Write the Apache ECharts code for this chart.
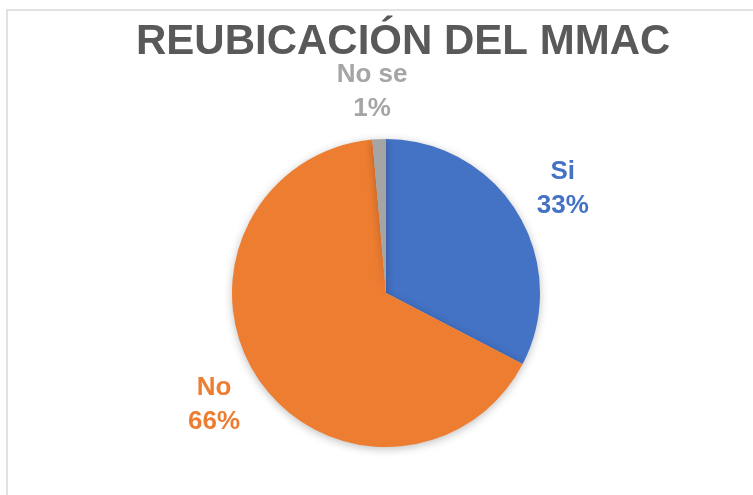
<!DOCTYPE html>
<html>
<head>
<meta charset="utf-8">
<script src="https://cdn.jsdelivr.net/npm/echarts@6/dist/echarts.min.js"></script>
<style>
  html, body { margin: 0; padding: 0; background: #fff; }
  #chart { width: 753px; height: 495px; }
</style>
</head>
<body>
<div id="chart"></div>
<script>
// datos
const categorias = ['Si', 'No', 'No se'];
const respuestas = [46, 93, 2];
const colores = ['#4472C4', '#ED7D31', '#A5A5A5'];

const myChart = echarts.init(document.getElementById('chart'));

const pieData = categorias.map((nombre, i) => ({
    name: nombre,
    value: respuestas[i],
    itemStyle: { color: colores[i] },
    label: { color: colores[i] }
}));

const option = {
    backgroundColor: '#ffffff',
    animation: false,
    title: {
        text: 'REUBICACIÓN DEL MMAC',
        left: 131,
        top: 16,
        textStyle: {
            fontFamily: 'Liberation Sans, Arial, sans-serif',
            fontSize: 42,
            fontWeight: 'bold',
            color: '#595959'
        }
    },
    graphic: [{
        type: 'rect',
        shape: { x: 7, y: 10, width: 800, height: 600 },
        style: { fill: 'none', stroke: '#D9D9D9', lineWidth: 1.5 },
        silent: true
    }],
    series: [{
        type: 'pie',
        center: [386, 293],
        radius: 154,
        startAngle: 90,
        clockwise: true,
        percentPrecision: 0,
        avoidLabelOverlap: false,
        itemStyle: {
            shadowBlur: 8,
            shadowColor: 'rgba(0,0,0,0.25)',
            shadowOffsetY: 2
        },
        label: {
            show: true,
            position: 'outside',
            formatter: '{b}\n{d}%',
            fontFamily: 'Liberation Sans, Arial, sans-serif',
            fontSize: 26,
            fontWeight: 'bold',
            lineHeight: 34
        },
        labelLine: { show: false, length: 47, length2: 0 },
        labelLayout: function () {
            return { align: 'center', verticalAlign: 'middle' };
        },
        emphasis: { disabled: true },
        data: pieData
    }]
};

myChart.setOption(option);
</script>
</body>
</html>
